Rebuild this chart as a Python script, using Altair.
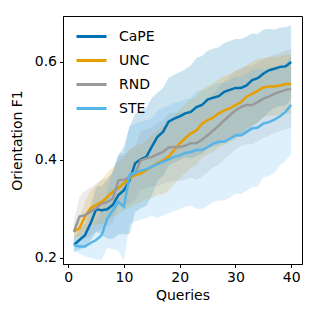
import altair as alt
import pandas as pd

queries = list(range(1, 41))
series_names = ["CaPE", "UNC", "RND", "STE"]
colors = ["#0072B2", "#E69F00", "#999999", "#56B4E9"]

cape_mean = [0.226, 0.236, 0.246, 0.270, 0.299, 0.297, 0.299, 0.308, 0.328, 0.338,
             0.358, 0.393, 0.401, 0.406, 0.427, 0.447, 0.457, 0.478, 0.484, 0.489,
             0.495, 0.498, 0.508, 0.512, 0.523, 0.527, 0.530, 0.539, 0.543, 0.547,
             0.547, 0.552, 0.563, 0.567, 0.576, 0.583, 0.586, 0.590, 0.591, 0.600]
unc_mean = [0.253, 0.260, 0.284, 0.301, 0.308, 0.314, 0.324, 0.335, 0.342, 0.352,
            0.362, 0.369, 0.372, 0.379, 0.386, 0.393, 0.399, 0.406, 0.420, 0.433,
            0.444, 0.454, 0.460, 0.474, 0.481, 0.486, 0.495, 0.501, 0.505, 0.512,
            0.518, 0.529, 0.535, 0.541, 0.548, 0.550, 0.550, 0.552, 0.555, 0.555]
rnd_mean = [0.253, 0.284, 0.287, 0.294, 0.301, 0.310, 0.314, 0.321, 0.358, 0.359,
            0.365, 0.372, 0.399, 0.403, 0.406, 0.411, 0.416, 0.425, 0.426, 0.426,
            0.429, 0.434, 0.434, 0.441, 0.450, 0.460, 0.470, 0.481, 0.491, 0.501,
            0.508, 0.512, 0.512, 0.518, 0.525, 0.529, 0.535, 0.539, 0.543, 0.545]
ste_mean = [0.226, 0.223, 0.223, 0.230, 0.236, 0.246, 0.280, 0.297, 0.314, 0.304,
            0.369, 0.374, 0.378, 0.381, 0.386, 0.391, 0.396, 0.401, 0.406, 0.409,
            0.414, 0.416, 0.420, 0.420, 0.426, 0.433, 0.437, 0.437, 0.443, 0.450,
            0.450, 0.457, 0.464, 0.466, 0.474, 0.477, 0.482, 0.489, 0.498, 0.512]

cape_hw = [0.015, 0.02, 0.025, 0.035, 0.045, 0.05, 0.06, 0.07, 0.08, 0.09,
           0.11, 0.10, 0.10, 0.10, 0.10, 0.09, 0.09, 0.09, 0.09, 0.09,
           0.09, 0.095, 0.10, 0.10, 0.10, 0.10, 0.10, 0.10, 0.10, 0.10,
           0.10, 0.10, 0.095, 0.09, 0.09, 0.085, 0.08, 0.08, 0.08, 0.075]
unc_hw = [0.01, 0.02, 0.03, 0.035, 0.04, 0.045, 0.05, 0.05, 0.055, 0.055,
          0.06, 0.06, 0.06, 0.06, 0.065, 0.065, 0.07, 0.07, 0.07, 0.07,
          0.07, 0.07, 0.07, 0.07, 0.07, 0.07, 0.07, 0.07, 0.07, 0.07,
          0.065, 0.065, 0.065, 0.065, 0.06, 0.06, 0.06, 0.06, 0.06, 0.06]
rnd_hw = [0.02, 0.04, 0.05, 0.05, 0.05, 0.05, 0.05, 0.05, 0.05, 0.05,
          0.055, 0.055, 0.06, 0.06, 0.06, 0.065, 0.065, 0.07, 0.07, 0.07,
          0.07, 0.07, 0.075, 0.075, 0.075, 0.075, 0.08, 0.08, 0.08, 0.08,
          0.08, 0.08, 0.08, 0.08, 0.08, 0.08, 0.08, 0.08, 0.08, 0.08]
ste_hw = [0.01, 0.015, 0.02, 0.03, 0.04, 0.05, 0.06, 0.08, 0.10, 0.11,
          0.10, 0.10, 0.10, 0.10, 0.10, 0.11, 0.11, 0.11, 0.11, 0.11,
          0.11, 0.11, 0.12, 0.12, 0.12, 0.12, 0.12, 0.12, 0.12, 0.12,
          0.12, 0.12, 0.12, 0.12, 0.11, 0.11, 0.11, 0.10, 0.10, 0.10]

x_ticks = [0, 10, 20, 30, 40]
y_ticks = [0.2, 0.4, 0.6]

rows = []
for name, means, hws in zip(series_names,
                            [cape_mean, unc_mean, rnd_mean, ste_mean],
                            [cape_hw, unc_hw, rnd_hw, ste_hw]):
    for q, m, h in zip(queries, means, hws):
        rows.append({"method": name, "order": series_names.index(name),
                     "q": q, "mean": m, "lo": m - h, "hi": m + h})
df = pd.DataFrame(rows)

FONT = "DejaVu Sans"
xs = alt.Scale(domain=[-0.95, 41.95], nice=False, zero=False)
ys = alt.Scale(domain=[0.187, 0.694], nice=False, zero=False)

base = alt.Chart(df)

bands = base.mark_area(opacity=0.2, clip=True).encode(
    x=alt.X("q:Q", scale=xs),
    y=alt.Y("lo:Q", scale=ys),
    y2="hi:Q",
    fill=alt.Fill("method:N", scale=alt.Scale(domain=series_names, range=colors),
                  legend=None),
    detail="method:N",
)

lines = base.mark_line(strokeWidth=2.5, clip=True).encode(
    x=alt.X("q:Q", scale=xs,
            axis=alt.Axis(title="Queries", values=x_ticks, format="d")),
    y=alt.Y("mean:Q", scale=ys,
            axis=alt.Axis(title="Orientation F1", values=y_ticks, format=".1f",
                          titlePadding=10)),
    color=alt.Color("method:N",
                    scale=alt.Scale(domain=series_names, range=colors),
                    sort=series_names,
                    legend=alt.Legend(title=None, orient="none",
                                      legendX=12, legendY=4,
                                      symbolType="stroke", symbolSize=900,
                                      symbolStrokeWidth=3, labelFontSize=14,
                                      labelFont=FONT, labelColor="black",
                                      labelOffset=11, rowPadding=-8,
                                      padding=0)),
    order="order:Q",
)

chart = alt.layer(bands, lines).resolve_scale(
    color="independent", fill="independent"
).properties(
    width=239, height=248,
    autosize=alt.AutoSizeParams(type="none"),
    padding={"left": 55, "top": 8, "right": 9, "bottom": 39},
).configure_view(
    stroke="black", strokeWidth=1
).configure_axis(
    grid=False, domainColor="black", tickColor="black", tickSize=3.5,
    labelFont=FONT, labelFontSize=14, labelColor="black", labelPadding=3,
    titleFont=FONT, titleFontSize=14, titleColor="black", titleFontWeight="normal",
)

chart.save("out.html", embed_options={"renderer": "svg", "actions": False})
